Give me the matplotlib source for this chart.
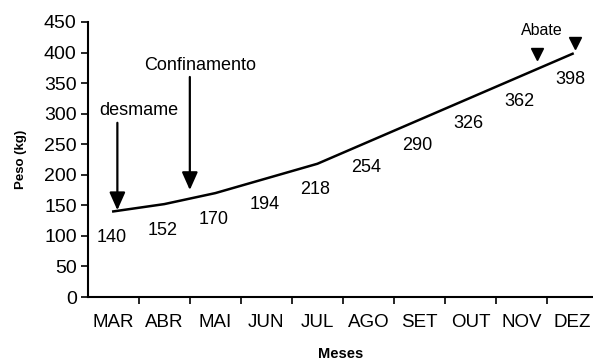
import numpy as np
import matplotlib.pyplot as plt

plt.rcParams['font.family'] = ['Liberation Sans', 'DejaVu Sans']

# monthly weight (kg)
meses = ['MAR', 'ABR', 'MAI', 'JUN', 'JUL', 'AGO', 'SET', 'OUT', 'NOV', 'DEZ']
peso = [140, 152, 170, 194, 218, 254, 290, 326, 362, 398]

# event annotations: label, arrow x, arrow top, arrow tip, text x, text y
eventos = ['desmame', 'Confinamento']
evento_x = [0.08, 1.5]
evento_topo = [285, 360]
evento_ponta = [142, 175]
evento_tx = [0.5, 1.7]
evento_ty = [305, 379]

abate_x = [8.3, 9.05]
abate_y = [398, 415]

fig = plt.figure(figsize=(5.93, 3.6), dpi=100)
ax = fig.add_axes([0.148, 0.175, 0.852, 0.764])

x = np.arange(len(meses))
ax.plot(x, peso, color='k', lw=1.8)

# value labels under the line
for xi, p in zip(x, peso):
    ax.annotate(str(p), (xi, p), xytext=(-2, -26), textcoords='offset pixels',
                ha='center', va='center', fontsize=13)

for lab, ex, top, tip, tx, ty in zip(eventos, evento_x, evento_topo, evento_ponta, evento_tx, evento_ty):
    ax.annotate('', xy=(ex, tip), xytext=(ex, top),
                arrowprops=dict(arrowstyle='-|>,head_length=0.9,head_width=0.4',
                                mutation_scale=12, lw=1.6, color='k',
                                shrinkA=0, shrinkB=0))
    ax.text(tx, ty, lab, ha='center', va='center', fontsize=13)

ax.plot(abate_x, abate_y, 'v', color='k', markersize=8)
ax.text(8.4, 436, 'Abate', ha='center', va='center', fontsize=11.5)

ax.set_xlim(-0.5, 9.4)
ax.set_ylim(0, 450)
ax.set_yticks(np.arange(0, 451, 50))
ax.set_xticks(x)
ax.set_xticklabels(meses)
ax.set_xticks(x[:-1] + 0.5, minor=True)
ax.tick_params(axis='x', which='major', length=0, pad=12, labelsize=13.5)
ax.tick_params(axis='x', which='minor', length=5, width=1.2, direction='out')
ax.tick_params(axis='y', length=5, width=1.2, labelsize=14, pad=3)

ax.spines['top'].set_visible(False)
ax.spines['right'].set_visible(False)
ax.spines['left'].set_linewidth(1.5)
ax.spines['bottom'].set_linewidth(1.5)

ax.set_ylabel('Peso (kg)', fontsize=9.5, fontweight='bold', labelpad=12)
ax.set_xlabel('Meses', fontsize=10.5, fontweight='bold', labelpad=12)

fig.savefig('out.png', dpi=100)
